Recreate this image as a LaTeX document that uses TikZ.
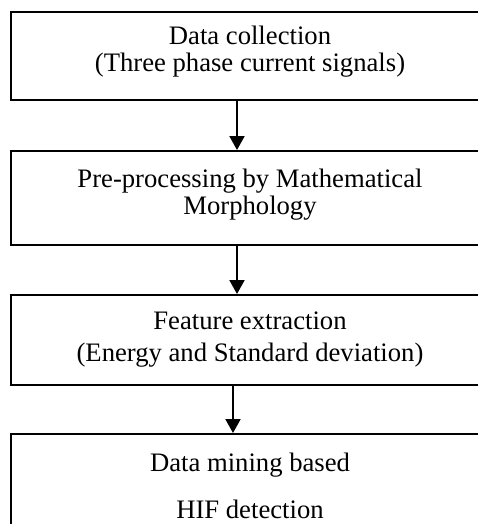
\documentclass[tikz,border=0pt]{standalone}
\usepackage{fontspec}
\setmainfont{Liberation Serif}
\usetikzlibrary{arrows.meta,positioning,calc}

\tikzset{
  stage/.style={draw, line width=0.9pt, minimum width=215.1pt, inner sep=0pt,
    align=center, font=\fontsize{12}{12.2}\selectfont},
  flow/.style={line width=0.9pt, -{Triangle[width=6.75pt,length=6.3pt]}}
}

\begin{document}
\begin{tikzpicture}[x=0.45pt,y=-0.45pt]
\useasboundingbox (0,0) rectangle (478,524);
\clip (0,0) rectangle (478,524);
% four stages, one under the other
\node[stage, minimum height=39.6pt, text depth=6.6pt] (collect) at (250,56)
  {Data collection\\(Three phase current signals)};
\node[stage, minimum height=42.3pt, text depth=5.3pt] (preproc) at (250,198)
  {Pre-processing by Mathematical\\Morphology};
\node[stage, minimum height=40.5pt] (feature) at (250,340)
  {Feature extraction\\[2.2pt](Energy and Standard deviation)};
\node[stage, minimum height=46.35pt] (mining) at (250,485.5)
  {Data mining based\\[9pt]HIF detection};
% arrows
\draw[flow] ([xshift=-5.85pt]collect.south) -- ([xshift=-5.85pt]preproc.north);
\draw[flow] ([xshift=-5.85pt]preproc.south) -- ([xshift=-5.85pt]feature.north);
\draw[flow] ([xshift=-7.65pt]feature.south) -- ([xshift=-7.65pt]mining.north);
\end{tikzpicture}
\end{document}
